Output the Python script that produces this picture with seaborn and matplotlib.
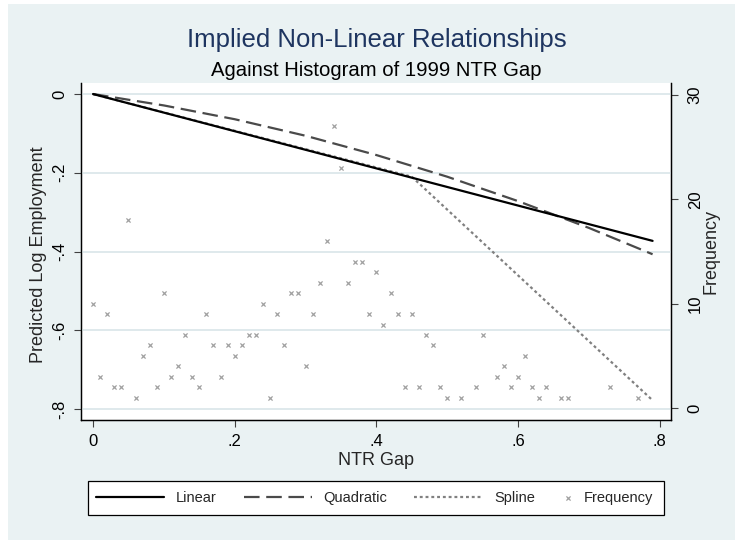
import matplotlib
matplotlib.use("Agg")
import matplotlib.pyplot as plt
from matplotlib.patches import Rectangle
import seaborn as sns

# --- values ---
gap_linear = [0.0, 0.79]
emp_linear = [0.0, -0.373]

gap_quad = [0.0, 0.1, 0.2, 0.3, 0.4, 0.5, 0.6, 0.7, 0.79]
emp_quad = [0.0, -0.029, -0.064, -0.106, -0.155, -0.210, -0.272, -0.340, -0.407]

gap_spline = [0.0, 0.45, 0.79]
emp_spline = [0.0, -0.21, -0.778]

freq_gap = [0.00, 0.01, 0.02, 0.03, 0.04, 0.05, 0.06, 0.07, 0.08, 0.09,
            0.10, 0.11, 0.12, 0.13, 0.14, 0.15, 0.16, 0.17, 0.18, 0.19,
            0.20, 0.21, 0.22, 0.23, 0.24, 0.25, 0.26, 0.27, 0.28, 0.29,
            0.30, 0.31, 0.32, 0.33, 0.34, 0.35, 0.36, 0.37, 0.38, 0.39,
            0.40, 0.41, 0.42, 0.43, 0.44, 0.45, 0.46, 0.47, 0.48, 0.49,
            0.50, 0.52, 0.54, 0.55, 0.57, 0.58, 0.59, 0.60, 0.61, 0.62,
            0.63, 0.64, 0.66, 0.67, 0.73, 0.77]
freq_count = [10, 3, 9, 2, 2, 18, 1, 5, 6, 2,
              11, 3, 4, 7, 3, 2, 9, 6, 3, 6,
              5, 6, 7, 7, 10, 1, 9, 6, 11, 11,
              4, 9, 12, 16, 27, 23, 12, 14, 14, 9,
              13, 8, 11, 9, 2, 9, 2, 7, 6, 2,
              1, 1, 2, 7, 3, 4, 2, 3, 5, 2,
              1, 2, 1, 1, 2, 1]

x_ticks = [0, 0.2, 0.4, 0.6, 0.8]
x_ticklabels = ["0", ".2", ".4", ".6", ".8"]
y_ticks = [0, -0.2, -0.4, -0.6, -0.8]
y_ticklabels = ["0", "-.2", "-.4", "-.6", "-.8"]
f_ticks = [0, 10, 20, 30]

# Stata s2color look
BG = "#EAF2F3"
GRID = "#DCE7EA"
TITLE = "#1E3560"

sns.set_style("ticks")
plt.rcParams["font.family"] = ["Liberation Sans", "DejaVu Sans"]

fig = plt.figure(figsize=(7.35, 5.4), dpi=100, facecolor="white")
fig.patches.append(Rectangle((8 / 735, 0), 1, 1 - 4 / 540, transform=fig.transFigure,
                             facecolor=BG, edgecolor="none", zorder=-10))

ax = fig.add_axes([81 / 735, 120 / 540, 590 / 735, 337 / 540])
ax2 = ax.twinx()

sns.scatterplot(x=freq_gap, y=freq_count, ax=ax2, marker="x", s=9, color="#A0A0A0",
                linewidth=0.9, label="Frequency", legend=False, zorder=2)
sns.lineplot(x=gap_spline, y=emp_spline, ax=ax, color="#808080", lw=1.6,
             label="Spline", legend=False, zorder=3)
sns.lineplot(x=gap_quad, y=emp_quad, ax=ax, color="#4A4A4A", lw=1.6,
             label="Quadratic", legend=False, zorder=4)
sns.lineplot(x=gap_linear, y=emp_linear, ax=ax, color="black", lw=1.6,
             label="Linear", legend=False, zorder=5)
ax.lines[0].set_dashes((1.3, 1.3))
ax.lines[1].set_dashes((7, 3))

# right axis (scatter) sits behind the fitted lines
ax.set_zorder(ax2.get_zorder() + 1)
ax.patch.set_visible(False)
ax2.patch.set_visible(True)
ax2.patch.set_facecolor("white")

ax.set_xlim(-0.017, 0.816)
ax.set_ylim(-0.828, 0.028)
ax2.set_ylim(-1.15, 31.16)

ax.set_xticks(x_ticks, x_ticklabels)
ax.set_yticks(y_ticks, y_ticklabels)
ax2.set_yticks(f_ticks, [str(t) for t in f_ticks])

for a in (ax, ax2):
    a.tick_params(length=5, width=0.8, color="#404040", labelsize=12, labelcolor="black")
ax.tick_params(axis="x", pad=5)
ax.tick_params(axis="y", pad=5, labelrotation=90)
ax2.tick_params(axis="y", pad=7, labelrotation=90)
for t in ax.get_yticklabels() + ax2.get_yticklabels():
    t.set_verticalalignment("center")

ax.set_axisbelow(True)
ax.grid(True, axis="y", color=GRID, lw=1.3)
ax.grid(False, axis="x")
ax2.grid(False)

for a in (ax, ax2):
    a.spines["top"].set_visible(False)
    for s in ("left", "bottom", "right"):
        a.spines[s].set_color("black")
        a.spines[s].set_linewidth(0.9)

ax.set_xlabel("NTR Gap", fontsize=13)
ax.xaxis.set_label_coords(0.5, -0.095)
ax.set_ylabel("Predicted Log Employment", fontsize=13)
ax.yaxis.set_label_coords(-0.058, 0.49)
ax2.set_ylabel("Frequency", fontsize=13, rotation=90)
ax2.yaxis.set_label_coords(1.053, 0.5)

fig.text(377 / 735, 1 - 47 / 540, "Implied Non-Linear Relationships", ha="center",
         va="baseline", fontsize=18.5, color=TITLE)
fig.text(376 / 735, 1 - 76 / 540, "Against Histogram of 1999 NTR Gap", ha="center",
         va="baseline", fontsize=14.6, color="black")

# legend: framed box with the three lines and a narrow marker entry
fig.patches.append(Rectangle((88 / 735, 25 / 540), 576 / 735, 34 / 540,
                             transform=fig.transFigure, facecolor="white",
                             edgecolor="black", lw=0.9, zorder=1))
handles, labels = ax.get_legend_handles_labels()
order = ["Linear", "Quadratic", "Spline"]
line_handles = [handles[labels.index(n)] for n in order]
fig.legend(line_handles, order, loc="center left", ncol=3,
           bbox_to_anchor=(96 / 735, 1 - 498 / 540), frameon=False,
           fontsize=10.5, handlelength=4.66, handletextpad=0.82,
           columnspacing=1.85, borderpad=0, borderaxespad=0)
h2, l2 = ax2.get_legend_handles_labels()
fig.legend(h2, l2, loc="center left", bbox_to_anchor=(564 / 735, 1 - 498 / 540),
           frameon=False, fontsize=10.5, handlelength=0.6, handletextpad=0.73,
           borderpad=0, borderaxespad=0, scatterpoints=1)

fig.savefig("out.png", dpi=100, facecolor=fig.get_facecolor())
